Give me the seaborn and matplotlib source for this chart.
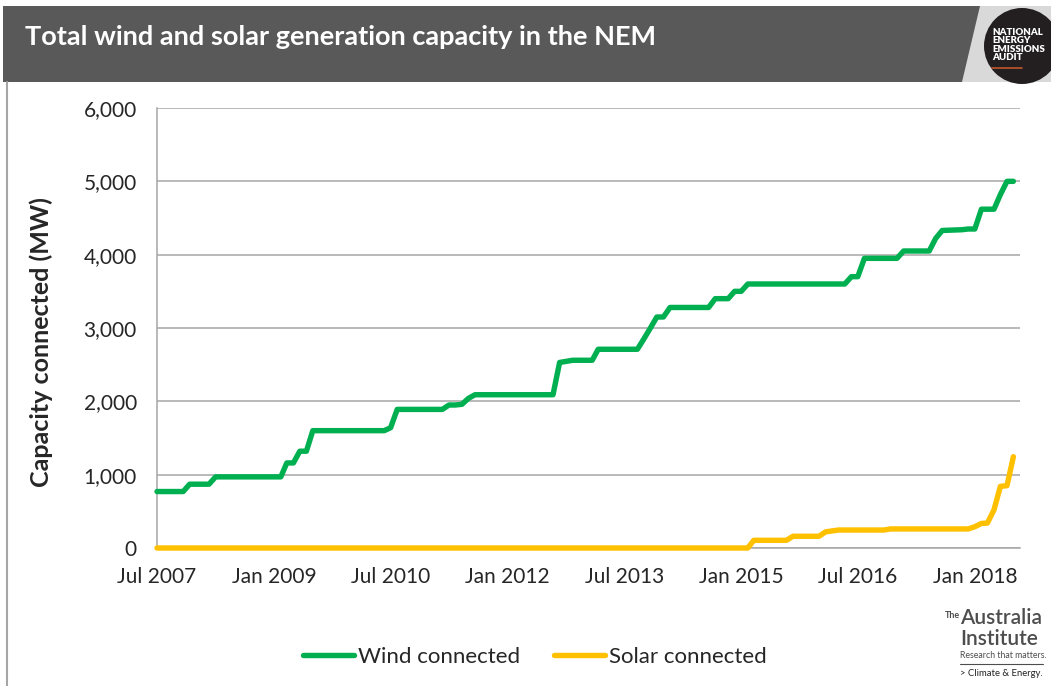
import matplotlib
matplotlib.use('Agg')
import matplotlib.pyplot as plt
import matplotlib.dates as mdates
from matplotlib.patches import Rectangle, Polygon, Ellipse
from matplotlib.lines import Line2D
from matplotlib.ticker import FuncFormatter
import seaborn as sns
import pandas as pd

# Wind capacity (MW), vertices of the monthly series
wind_months = ['2007-07', '2007-11', '2007-12', '2008-03', '2008-04', '2009-02',
               '2009-03', '2009-04', '2009-05', '2009-06', '2009-07', '2010-06',
               '2010-07', '2010-08', '2011-03', '2011-04', '2011-05', '2011-06',
               '2011-07', '2011-08', '2012-08', '2012-09', '2012-11', '2013-02',
               '2013-03', '2013-09', '2013-10', '2013-11', '2013-12', '2014-01',
               '2014-02', '2014-08', '2014-09', '2014-11', '2014-12', '2015-01',
               '2015-02', '2016-05', '2016-06', '2016-07', '2016-08', '2017-01',
               '2017-02', '2017-06', '2017-07', '2017-08', '2017-11', '2017-12',
               '2018-01', '2018-02', '2018-04', '2018-05', '2018-06', '2018-07']
wind_mw = [770, 770, 870, 870, 970, 970,
           1160, 1160, 1320, 1320, 1600, 1600,
           1640, 1890, 1890, 1950, 1950, 1960,
           2040, 2090, 2090, 2530, 2560, 2560,
           2710, 2710, 2850, 3000, 3150, 3150,
           3280, 3280, 3400, 3400, 3500, 3500,
           3600, 3600, 3700, 3700, 3950, 3950,
           4050, 4050, 4220, 4330, 4340, 4350,
           4350, 4620, 4620, 4820, 5000, 5000]

# Solar capacity (MW)
solar_months = ['2007-07', '2015-02', '2015-03', '2015-08', '2015-09', '2016-01',
                '2016-02', '2016-04', '2016-11', '2016-12', '2017-12', '2018-01',
                '2018-02', '2018-03', '2018-04', '2018-05', '2018-06', '2018-07']
solar_mw = [0, 0, 105, 105, 160, 160,
            220, 245, 245, 260, 260, 290,
            335, 340, 520, 840, 850, 1245]

tick_dates = ['2007-07', '2009-01', '2010-07', '2012-01', '2013-07',
              '2015-01', '2016-07', '2018-01']

df = pd.concat([
    pd.DataFrame({'date': pd.to_datetime(wind_months), 'mw': wind_mw,
                  'series': 'Wind connected'}),
    pd.DataFrame({'date': pd.to_datetime(solar_months), 'mw': solar_mw,
                  'series': 'Solar connected'}),
])

colors = {'Wind connected': '#00B050', 'Solar connected': '#FFC000'}
grey = '#A6A6A6'

sns.set_style('white')
plt.rcParams['font.family'] = ['Lato', 'DejaVu Sans']

fig = plt.figure(figsize=(10.51, 6.86), dpi=100)
W, H = 1051, 686

# header band and logo
fig.add_artist(Rectangle((3 / W, 1 - 82 / H), 1, 76 / H, transform=fig.transFigure,
                         color='#595959', lw=0))
fig.add_artist(Polygon([(980 / W, 1 - 6 / H), (1, 1 - 6 / H), (1, 1 - 82 / H),
                        (962 / W, 1 - 82 / H)], closed=True,
                       transform=fig.transFigure, color='#D9D9D9', lw=0))
fig.add_artist(Ellipse((1022 / W, 1 - 46 / H), 76 / W, 76 / H,
                       transform=fig.transFigure, color='#231F20', lw=0))
fig.text(992 / W, 1 - 45 / H, 'NATIONAL\nENERGY\nEMISSIONS\nAUDIT', color='white',
         fontsize=7, fontweight='heavy', ha='left', va='center', linespacing=0.9)
fig.add_artist(Line2D([992 / W, 1022 / W], [1 - 68 / H, 1 - 68 / H],
                      transform=fig.transFigure, color='#C0562B', lw=1.2))
fig.text(25 / W, 1 - 37 / H, 'Total wind and solar generation capacity in the NEM',
         color='white', fontsize=19.5, fontweight='bold', ha='left', va='center')

# left border
fig.add_artist(Line2D([7 / W, 7 / W], [0, 1 - 82 / H], transform=fig.transFigure,
                      color=grey, lw=1.5))

ax = fig.add_axes([157 / W, 1 - 548 / H, 863 / W, 440 / H])
sns.lineplot(data=df, x='date', y='mw', hue='series', palette=colors,
             linewidth=3.9, ax=ax, legend=False, solid_capstyle='round',
             solid_joinstyle='round', clip_on=False, zorder=3)

ax.set_ylim(0, 6000)
ax.set_xlim(pd.Timestamp('2007-07-01'), pd.Timestamp('2018-08-01'))
ax.set_yticks(range(0, 6001, 1000))
ax.yaxis.set_major_formatter(FuncFormatter(lambda v, p: f'{int(v):,}'))
ax.set_xticks(pd.to_datetime(tick_dates))
ax.xaxis.set_major_formatter(mdates.DateFormatter('%b %Y'))
ax.grid(axis='y', color=grey, lw=1.1)
ax.set_axisbelow(True)
for s in ['top', 'right']:
    ax.spines[s].set_visible(False)
for s in ['left', 'bottom']:
    ax.spines[s].set_color(grey)
    ax.spines[s].set_linewidth(1.1)
ax.tick_params(axis='y', length=6.5, color=grey, width=1.1, pad=8, labelsize=15)
ax.tick_params(axis='x', length=5, color=grey, width=1.1, pad=9, labelsize=15)
ax.set_xlabel('')
ax.set_ylabel('Capacity connected (MW)', fontsize=18, fontweight='bold')
ax.yaxis.set_label_coords(-0.121, 0.468)

handles = [Line2D([], [], color=colors[k], lw=3.9, solid_capstyle='round')
           for k in colors]
fig.legend(handles, list(colors), loc='center', bbox_to_anchor=(535 / W, 1 - 657 / H),
           ncol=2, frameon=False, fontsize=16, handlelength=2.3, handletextpad=0.2,
           columnspacing=1.5)

# Australia Institute logo
logo = '#4D4D4D'
fig.text(945 / W, 1 - 616 / H, 'The', color=logo, fontsize=6.5, fontweight='bold',
         ha='left', va='center')
fig.text(960 / W, 1 - 618 / H, 'Australia', color=logo, fontsize=15,
         fontweight='semibold', ha='left', va='center')
fig.text(960 / W, 1 - 639 / H, 'Institute', color=logo, fontsize=15,
         fontweight='semibold', ha='left', va='center')
fig.text(960 / W, 1 - 656 / H, 'Research that matters.', color=logo, fontsize=6.3,
         ha='left', va='center')
fig.add_artist(Line2D([960 / W, 1043 / W], [1 - 664 / H, 1 - 664 / H],
                      transform=fig.transFigure, color=logo, lw=0.8))
fig.text(960 / W, 1 - 674 / H, '> Climate & Energy.', color='#222222', fontsize=6.8,
         ha='left', va='center')

fig.savefig('out.png', dpi=100)
